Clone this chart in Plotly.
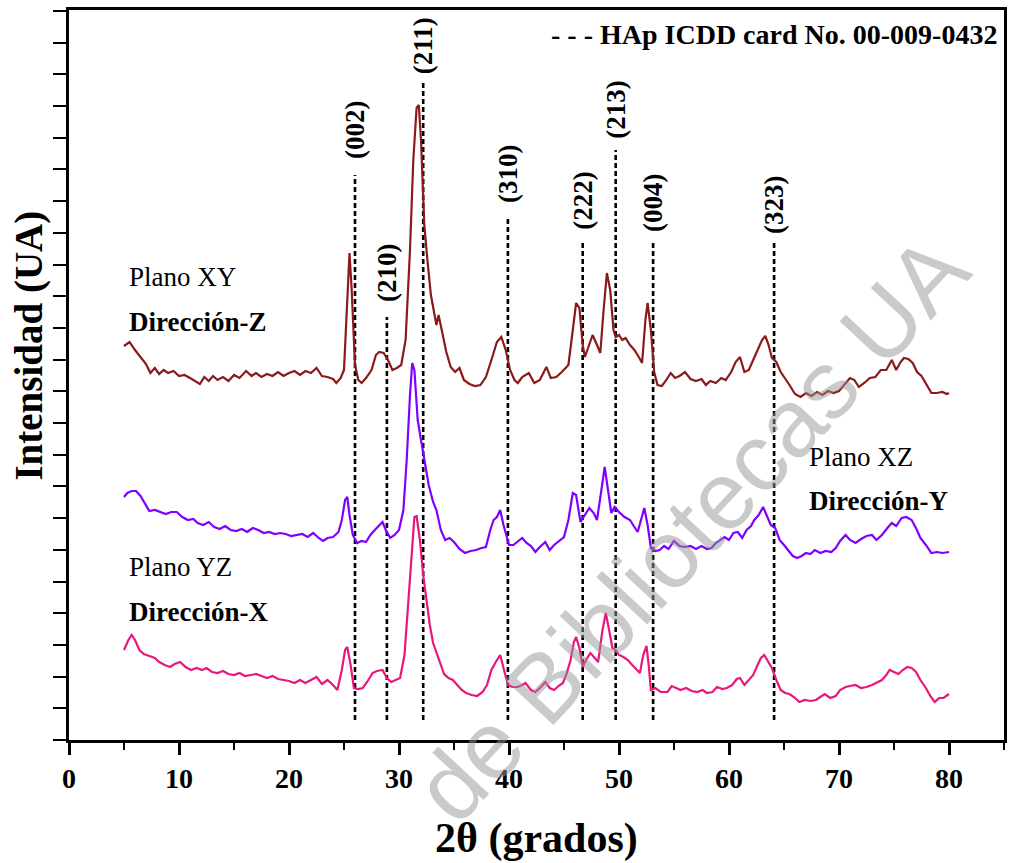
import plotly.graph_objects as go

# ---- XRD patterns (2theta in degrees, stacked intensity in a.u.) ----
two_theta_xy = [5.0, 5.5, 6.0, 6.5, 7.0, 7.4, 7.8, 8.2, 8.6, 9.0, 9.5, 10.0, 10.5, 11.0, 11.5, 11.9,
                12.3, 12.7, 13.1, 13.5, 14.0, 14.5, 15.0, 15.5, 16.1, 16.6, 17.0, 17.5, 18.0, 18.5, 19.0,
                19.5, 20.0, 20.5, 21.0, 21.5, 22.0, 22.5, 23.0, 23.5, 24.0, 24.3, 24.7, 25.0, 25.3, 25.5,
                25.7, 26.0, 26.3, 26.6, 27.0, 27.5, 27.9, 28.2, 28.6, 29.0, 29.4, 29.8, 30.2, 30.6, 31.0,
                31.3, 31.6, 31.8, 32.0, 32.3, 32.6, 32.9, 33.2, 33.4, 33.6, 33.9, 34.3, 34.7, 35.1, 35.5,
                35.9, 36.4, 36.9, 37.4, 37.9, 38.4, 38.9, 39.3, 39.7, 40.1, 40.5, 40.8, 41.2, 41.8, 42.3,
                42.8, 43.4, 43.8, 44.3, 44.8, 45.4, 45.8, 46.1, 46.4, 46.7, 46.9, 47.3, 47.6, 48.0, 48.3,
                48.6, 48.9, 49.2, 49.5, 49.7, 50.0, 50.3, 50.6, 51.0, 51.4, 51.8, 52.1, 52.4, 52.6, 52.9,
                53.2, 53.5, 53.9, 54.3, 54.7, 55.1, 55.5, 56.0, 56.5, 57.0, 57.5, 57.9, 58.3, 58.8, 59.3,
                59.7, 60.2, 60.6, 61.0, 61.4, 61.8, 62.2, 62.6, 63.0, 63.3, 63.6, 63.9, 64.3, 64.7, 65.1,
                65.5, 66.0, 66.5, 67.0, 67.5, 68.0, 68.5, 69.0, 69.5, 70.0, 70.5, 71.0, 71.4, 71.8, 72.3,
                72.8, 73.3, 73.8, 74.3, 74.8, 75.2, 75.6, 75.9, 76.3, 76.7, 77.1, 77.5, 78.0, 78.4, 78.9,
                79.4, 79.8, 80.0]
intensity_xy = [394, 398, 390, 383, 376, 367, 372, 366, 370, 367, 369, 364, 365, 362, 359, 356,
                363, 359, 364, 360, 363, 359, 365, 362, 369, 364, 367, 363, 366, 364, 368,
                364, 367, 369, 365, 369, 367, 372, 364, 363, 361, 357, 362, 370, 440, 487,
                450, 375, 360, 357, 362, 370, 385, 388, 387, 380, 370, 372, 375, 400, 490,
                580, 632, 635, 600, 515, 478, 445, 427, 415, 425, 410, 388, 373, 368, 372,
                360, 356, 354, 355, 363, 380, 398, 403, 390, 370, 360, 357, 363, 367, 357,
                360, 373, 362, 363, 368, 375, 410, 437, 432, 395, 383, 395, 405, 395, 387,
                430, 467, 450, 410, 403, 405, 400, 402, 395, 390, 383, 377, 420, 437, 410,
                368, 355, 354, 360, 367, 362, 364, 368, 361, 359, 361, 355, 359, 357, 362,
                360, 368, 378, 383, 368, 370, 380, 390, 400, 404, 395, 382, 378, 368, 362,
                355, 346, 343, 347, 344, 348, 345, 349, 347, 349, 355, 362, 360, 353, 357,
                362, 363, 370, 370, 380, 370, 378, 382, 381, 377, 368, 364, 355, 347, 347,
                348, 346, 347]

two_theta_xz = [5.0, 5.3, 5.7, 6.1, 6.5, 6.9, 7.3, 7.8, 8.3, 8.8, 9.3, 9.8, 10.3, 10.8, 11.3, 11.7,
                12.2, 12.7, 13.2, 13.7, 14.2, 14.7, 15.2, 15.7, 16.2, 16.7, 17.2, 17.7, 18.2, 18.7, 19.2,
                19.7, 20.2, 20.7, 21.2, 21.7, 22.2, 22.7, 23.1, 23.5, 24.0, 24.5, 24.8, 25.1, 25.3, 25.5,
                25.8, 26.2, 26.6, 27.0, 27.4, 27.8, 28.2, 28.5, 28.8, 29.2, 29.6, 30.0, 30.4, 30.7, 31.0,
                31.2, 31.4, 31.7, 32.0, 32.3, 32.7, 33.1, 33.4, 33.8, 34.2, 34.6, 35.0, 35.5, 36.0, 36.5,
                37.0, 37.5, 37.9, 38.3, 38.6, 38.9, 39.2, 39.5, 40.0, 40.4, 40.8, 41.2, 41.6, 42.0, 42.4,
                42.8, 43.3, 43.7, 44.1, 44.6, 45.0, 45.4, 45.8, 46.1, 46.5, 46.9, 47.3, 47.7, 48.0, 48.4,
                48.7, 49.0, 49.3, 49.6, 50.0, 50.5, 51.0, 51.4, 51.7, 52.0, 52.3, 52.6, 52.9, 53.3, 53.7,
                54.1, 54.5, 55.0, 55.5, 56.0, 56.5, 57.0, 57.5, 58.0, 58.4, 58.8, 59.2, 59.6, 60.0, 60.4,
                60.8, 61.2, 61.6, 62.0, 62.3, 62.7, 63.1, 63.4, 63.8, 64.2, 64.6, 65.0, 65.4, 65.8, 66.2,
                66.6, 67.0, 67.4, 67.8, 68.3, 68.8, 69.3, 69.7, 70.1, 70.6, 71.0, 71.5, 72.0, 72.5, 73.0,
                73.4, 73.9, 74.4, 74.8, 75.2, 75.7, 76.1, 76.6, 77.0, 77.4, 77.9, 78.4, 78.9, 79.4, 80.0]
intensity_xz = [243, 247, 249, 249, 244, 237, 229, 230, 228, 226, 228, 228, 223, 220, 221, 217,
                215, 218, 213, 211, 214, 210, 209, 211, 208, 212, 210, 207, 208, 206, 207,
                206, 204, 205, 206, 203, 207, 202, 199, 202, 203, 208, 220, 240, 243, 225,
                205, 197, 199, 198, 205, 210, 215, 218, 210, 202, 205, 210, 230, 280, 345,
                377, 370, 320, 300, 280, 255, 238, 230, 210, 200, 202, 198, 191, 187, 189,
                190, 192, 193, 210, 220, 223, 230, 215, 195, 195, 199, 202, 197, 194, 188,
                193, 198, 190, 195, 200, 203, 220, 247, 245, 218, 225, 232, 227, 220, 250,
                273, 250, 227, 233, 228, 223, 220, 213, 208, 220, 232, 215, 192, 189, 190,
                194, 191, 199, 194, 193, 194, 191, 194, 191, 192, 197, 200, 203, 200, 207,
                208, 202, 210, 214, 220, 225, 233, 225, 215, 212, 200, 195, 190, 184, 182,
                184, 187, 186, 190, 187, 189, 188, 192, 199, 205, 200, 197, 201, 204, 205,
                200, 205, 212, 217, 214, 222, 223, 220, 212, 202, 195, 187, 188, 187, 188]

two_theta_yz = [5.0, 5.4, 5.7, 6.0, 6.4, 6.8, 7.3, 7.8, 8.2, 8.7, 9.2, 9.6, 10.1, 10.6, 11.1, 11.6,
                12.1, 12.5, 13.0, 13.5, 14.0, 14.5, 15.0, 15.5, 16.0, 16.5, 17.0, 17.5, 18.0, 18.5, 19.0,
                19.5, 20.0, 20.5, 21.0, 21.5, 22.0, 22.5, 23.0, 23.5, 24.0, 24.4, 24.8, 25.1, 25.3, 25.6,
                25.9, 26.3, 26.7, 27.1, 27.6, 28.0, 28.5, 28.9, 29.3, 29.7, 30.1, 30.5, 30.8, 31.1, 31.4,
                31.6, 31.9, 32.2, 32.5, 32.8, 33.1, 33.4, 33.8, 34.1, 34.5, 34.9, 35.3, 35.7, 36.1, 36.6,
                37.1, 37.6, 38.0, 38.4, 38.8, 39.2, 39.5, 39.9, 40.3, 40.8, 41.2, 41.5, 42.0, 42.4, 42.9,
                43.3, 43.7, 44.1, 44.5, 44.9, 45.2, 45.6, 45.9, 46.1, 46.4, 46.7, 47.0, 47.4, 47.8, 48.1,
                48.5, 48.8, 49.1, 49.4, 49.7, 50.0, 50.4, 50.8, 51.2, 51.6, 51.9, 52.2, 52.5, 52.7, 52.9,
                53.3, 53.8, 54.4, 54.8, 55.2, 55.6, 56.1, 56.6, 57.1, 57.6, 58.0, 58.5, 58.9, 59.4, 59.8,
                60.3, 60.7, 61.0, 61.4, 61.8, 62.2, 62.6, 62.9, 63.2, 63.5, 63.9, 64.3, 64.7, 65.1, 65.5,
                65.9, 66.4, 66.9, 67.4, 67.9, 68.3, 68.7, 69.2, 69.7, 70.1, 70.6, 71.0, 71.5, 72.0, 72.5,
                73.0, 73.4, 73.9, 74.3, 74.6, 75.0, 75.4, 75.8, 76.2, 76.6, 77.0, 77.4, 77.9, 78.3, 78.7,
                79.1, 79.5, 80.0]
intensity_yz = [90, 100, 105, 100, 90, 86, 84, 82, 78, 75, 73, 76, 78, 73, 70, 72,
                70, 72, 68, 67, 69, 66, 65, 67, 64, 65, 66, 64, 62, 64, 61,
                60, 59, 57, 60, 57, 60, 63, 56, 60, 55, 50, 70, 90, 93, 75,
                52, 51, 52, 58, 67, 69, 70, 62, 58, 60, 62, 85, 130, 180, 223,
                224, 200, 165, 140, 115, 97, 88, 75, 66, 62, 60, 55, 50, 47, 45,
                44, 48, 55, 70, 78, 85, 72, 55, 53, 53, 55, 57, 50, 48, 53,
                58, 52, 50, 54, 57, 65, 80, 98, 103, 92, 73, 80, 87, 82, 78,
                110, 127, 110, 92, 90, 85, 83, 80, 75, 70, 67, 85, 94, 75, 50,
                52, 48, 48, 54, 52, 50, 52, 49, 48, 50, 47, 48, 53, 51, 52,
                55, 61, 62, 55, 60, 65, 75, 82, 85, 80, 72, 60, 50, 47, 46,
                43, 38, 40, 39, 40, 43, 46, 42, 44, 50, 53, 54, 55, 52, 53,
                55, 57, 60, 65, 70, 68, 66, 70, 73, 72, 68, 60, 52, 44, 38,
                42, 42, 46]

# ---- HAp reference reflections (ICDD 00-009-0432) ----
ref_hkl = ["(002)", "(210)", "(211)", "(310)", "(222)", "(213)", "(004)", "(323)"]
ref_two_theta = [26.0, 28.9, 32.2, 39.9, 46.7, 49.7, 53.1, 64.1]
ref_line_top = [565, 423, 660, 523, 497, 590, 497, 497]
ref_line_bottom = 20
ref_label_y = [610, 467, 694, 566, 539, 630, 537, 535]

SERIF = "Liberation Serif"

fig = go.Figure()

# dashed reference lines
for pos, top in zip(ref_two_theta, ref_line_top):
    fig.add_trace(go.Scatter(
        x=[pos, pos], y=[ref_line_bottom, top], mode="lines",
        line=dict(color="black", width=2.6, dash="5px,3px"),
        showlegend=False, hoverinfo="skip"))

patterns = [
    (two_theta_xy, intensity_xy, "#8B1A1A", "Plano XY - Dirección-Z"),
    (two_theta_xz, intensity_xz, "#7F00FF", "Plano XZ - Dirección-Y"),
    (two_theta_yz, intensity_yz, "#E8177C", "Plano YZ - Dirección-X"),
]
for xs, ys, color, name in patterns:
    fig.add_trace(go.Scatter(x=xs, y=ys, mode="lines", name=name,
                             line=dict(color=color, width=2.2), showlegend=False))

annotations = []
# hkl labels
for pos, lab, ly in zip(ref_two_theta, ref_hkl, ref_label_y):
    annotations.append(dict(x=pos, y=ly, xref="x", yref="y", text=lab, textangle=-90,
                            showarrow=False, font=dict(family=SERIF, size=27, color="black", weight="bold")))


def sample_label(xp, yp, plane, direction):
    annotations.append(dict(x=xp, y=yp, xref="paper", yref="paper", xanchor="left", yanchor="middle",
                            text=plane, showarrow=False,
                            font=dict(family=SERIF, size=27, color="black")))
    annotations.append(dict(x=xp, y=yp - 0.061, xref="paper", yref="paper", xanchor="left", yanchor="middle",
                            text=direction, showarrow=False,
                            font=dict(family=SERIF, size=27, color="black", weight="bold")))


sample_label(0.062, 0.634, "Plano XY", "Dirección-Z")
sample_label(0.789, 0.388, "Plano XZ", "Dirección-Y")
sample_label(0.062, 0.237, "Plano YZ", "Dirección-X")

# reference legend text
annotations.append(dict(x=0.995, y=0.966, xref="paper", yref="paper", xanchor="right", yanchor="middle",
                        text="- - - HAp ICDD card No. 00-009-0432", showarrow=False,
                        font=dict(family=SERIF, size=28, color="black", weight="bold")))

# axis titles
annotations.append(dict(x=0.5, y=-0.135, xref="paper", yref="paper", text="2θ (grados)", showarrow=False,
                        xanchor="center", yanchor="middle",
                        font=dict(family=SERIF, size=42, color="black", weight="bold")))
annotations.append(dict(x=-0.043, y=0.54, xref="paper", yref="paper", text="Intensidad (UA)", showarrow=False,
                        textangle=-90, xanchor="center", yanchor="middle",
                        font=dict(family=SERIF, size=39, color="black", weight="bold")))

# repository watermark
annotations.append(dict(x=0.665, y=0.29, xref="paper", yref="paper", text="de Bibliotecas UA",
                        showarrow=False, textangle=-47, xanchor="center", yanchor="middle",
                        font=dict(family="Liberation Sans", size=96,
                                  color="rgba(150,150,150,0.5)")))

fig.update_layout(
    width=1010, height=863,
    margin=dict(l=69, r=3, t=10, b=123),
    paper_bgcolor="white", plot_bgcolor="white",
    annotations=annotations,
    xaxis=dict(range=[0, 85], tick0=0, dtick=10, ticks="outside", ticklen=12, tickwidth=2.5,
               tickcolor="black", showline=True, linewidth=2.6, linecolor="black", mirror=True,
               showgrid=False, zeroline=False,
               tickfont=dict(family=SERIF, size=28, color="black", weight="bold"),
               minor=dict(dtick=5, ticks="outside", ticklen=7, tickwidth=2, tickcolor="black")),
    yaxis=dict(range=[0, 730], tick0=0, dtick=31.7, ticks="outside", ticklen=13, tickwidth=2.2,
               tickcolor="black", showticklabels=False, showline=True, linewidth=2.6,
               linecolor="black", mirror=True, showgrid=False, zeroline=False),
)

fig.write_html("out.html")
